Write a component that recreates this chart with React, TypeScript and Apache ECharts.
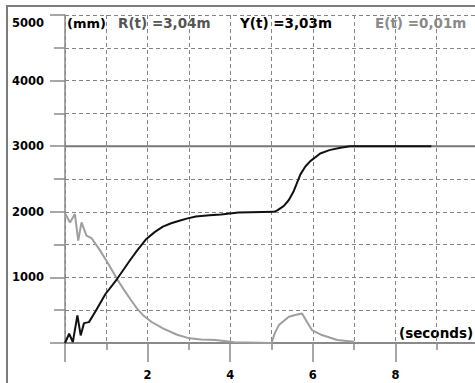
import React, { useEffect, useRef } from "react";
import * as echarts from "echarts";

// Y(t) measured position (black)
const yTimes = [0, 0.1, 0.19, 0.3, 0.38, 0.46, 0.58, 0.74, 0.98, 1.26, 1.57, 1.74, 1.97, 2.17, 2.37, 2.57, 2.77, 2.97, 3.17, 3.5, 3.78, 4.2, 5.06, 5.15, 5.3, 5.42, 5.54, 5.7, 5.82, 5.94, 6.18, 6.4, 6.67, 6.9, 8.87];
const yValues = [0, 141, 15, 420, 116, 303, 318, 485, 747, 975, 1258, 1404, 1586, 1690, 1773, 1825, 1864, 1900, 1929, 1948, 1960, 1990, 2000, 2025, 2090, 2180, 2318, 2571, 2690, 2773, 2889, 2940, 2975, 3000, 3000];

// E(t) error (gray)
const eTimes = [0, 0.12, 0.24, 0.32, 0.4, 0.52, 0.64, 0.84, 1.0, 1.28, 1.45, 1.6, 1.75, 1.89, 2.1, 2.37, 2.7, 3.01, 3.3, 3.65, 4.1, 5.0, 5.08, 5.18, 5.42, 5.6, 5.74, 5.86, 5.98, 6.22, 6.59, 7.0];
const eValues = [1980, 1838, 1965, 1560, 1838, 1636, 1600, 1420, 1258, 955, 790, 652, 520, 424, 320, 222, 130, 71, 55, 45, 10, 0, 150, 273, 399, 430, 449, 320, 197, 121, 45, 20];

// R(t) reference level
const rTimes = [0, 10];
const rValues = [3000, 3000];

const yTickLabels = [1000, 2000, 3000, 4000, 5000];
const xTickLabels = [2, 4, 6, 8];

const headerTexts = ["(mm)", "R(t) =3,04m", "Y(t) =3,03m", "E(t) =0,01m"];
const xAxisTitle = "(seconds)";

const FONT = "DejaVu Sans";

function pairs(t: number[], v: number[]) {
  return t.map((x, i) => [x, v[i]]);
}

export default function App() {
  const ref = useRef<HTMLDivElement>(null);
  useEffect(() => {
    if (!ref.current) return;
    const chart = echarts.init(ref.current, undefined, { renderer: "svg" });
    const gridDash = { color: "#858585", type: [4, 3] as any, width: 1 };
    const axisCol = "#8a8a8a";
    chart.setOption({
      animation: false,
      backgroundColor: "#ffffff",
      grid: { left: 65, top: 15, width: 413, height: 328, outerBoundsMode: "none", containLabel: false },
      xAxis: {
        type: "value",
        min: 0,
        max: 10,
        interval: 2,
        axisLine: { show: true, lineStyle: { color: axisCol, width: 2 } },
        axisTick: { show: true, length: 19, lineStyle: { color: axisCol, width: 1.5 } },
        minorTick: { show: true, splitNumber: 2, length: 7, lineStyle: { color: axisCol, width: 1.5 } },
        splitLine: { show: true, lineStyle: gridDash },
        minorSplitLine: { show: true, lineStyle: gridDash },
        axisLabel: {
          margin: 26,
          fontFamily: FONT,
          fontWeight: "bold",
          fontSize: 11.5,
          color: "#000",
          formatter: (v: number) => (xTickLabels.includes(v) ? String(v) : ""),
        },
      },
      yAxis: {
        type: "value",
        min: 0,
        max: 5000,
        interval: 1000,
        axisLine: { show: true, lineStyle: { color: axisCol, width: 1.5 } },
        axisTick: { show: true, length: 15, lineStyle: { color: axisCol, width: 1.5 } },
        minorTick: { show: true, splitNumber: 2, length: 11, lineStyle: { color: axisCol, width: 1.5 } },
        splitLine: { show: true, lineStyle: gridDash },
        minorSplitLine: { show: true, lineStyle: gridDash },
        axisLabel: {
          margin: 21,
          fontFamily: FONT,
          fontWeight: "bold",
          fontSize: 11.5,
          color: "#000",
          formatter: (v: number) =>
            yTickLabels.includes(v) ? (v === 5000 ? "{top|" + v + "}" : String(v)) : "",
          rich: {
            top: { padding: [16, 0, 0, 0], fontFamily: FONT, fontWeight: "bold", fontSize: 11.5, color: "#000" },
          },
        },
      },
      series: [
        {
          name: "R(t)",
          type: "line",
          data: pairs(rTimes, rValues),
          showSymbol: false,
          lineStyle: { color: "#777777", width: 2 },
          z: 3,
        },
        {
          name: "E(t)",
          type: "line",
          data: pairs(eTimes, eValues),
          showSymbol: false,
          lineStyle: { color: "#9e9e9e", width: 2 },
          z: 4,
        },
        {
          name: "Y(t)",
          type: "line",
          data: pairs(yTimes, yValues),
          showSymbol: false,
          lineStyle: { color: "#111111", width: 2 },
          z: 5,
        },
      ],
      graphic: [
        { type: "rect", shape: { x: 6, y: 5, width: 469, height: 2 }, style: { fill: "#7c7c7c" } },
        { type: "rect", shape: { x: 6, y: 5, width: 2, height: 378 }, style: { fill: "#7c7c7c" } },
        { type: "text", x: 67, y: 23, style: { text: headerTexts[0], font: `bold 13px "${FONT}"`, fill: "#000", verticalAlign: "middle" } },
        { type: "text", x: 118, y: 23, style: { text: headerTexts[1], font: `bold 13.5px "${FONT}"`, fill: "#555", verticalAlign: "middle" } },
        { type: "text", x: 240, y: 23, style: { text: headerTexts[2], font: `bold 13.5px "${FONT}"`, fill: "#000", verticalAlign: "middle" } },
        { type: "text", x: 375, y: 23, style: { text: headerTexts[3], font: `bold 13.5px "${FONT}"`, fill: "#8a8a8a", verticalAlign: "middle" } },
        { type: "text", x: 399, y: 333, style: { text: xAxisTitle, font: `bold 13.5px "${FONT}"`, fill: "#000", verticalAlign: "middle" } },
      ],
    });
    return () => chart.dispose();
  }, []);
  return (
    <div
      ref={ref}
      style={{ position: "absolute", left: 0, top: 0, width: 475, height: 383, background: "#fff" }}
    />
  );
}
